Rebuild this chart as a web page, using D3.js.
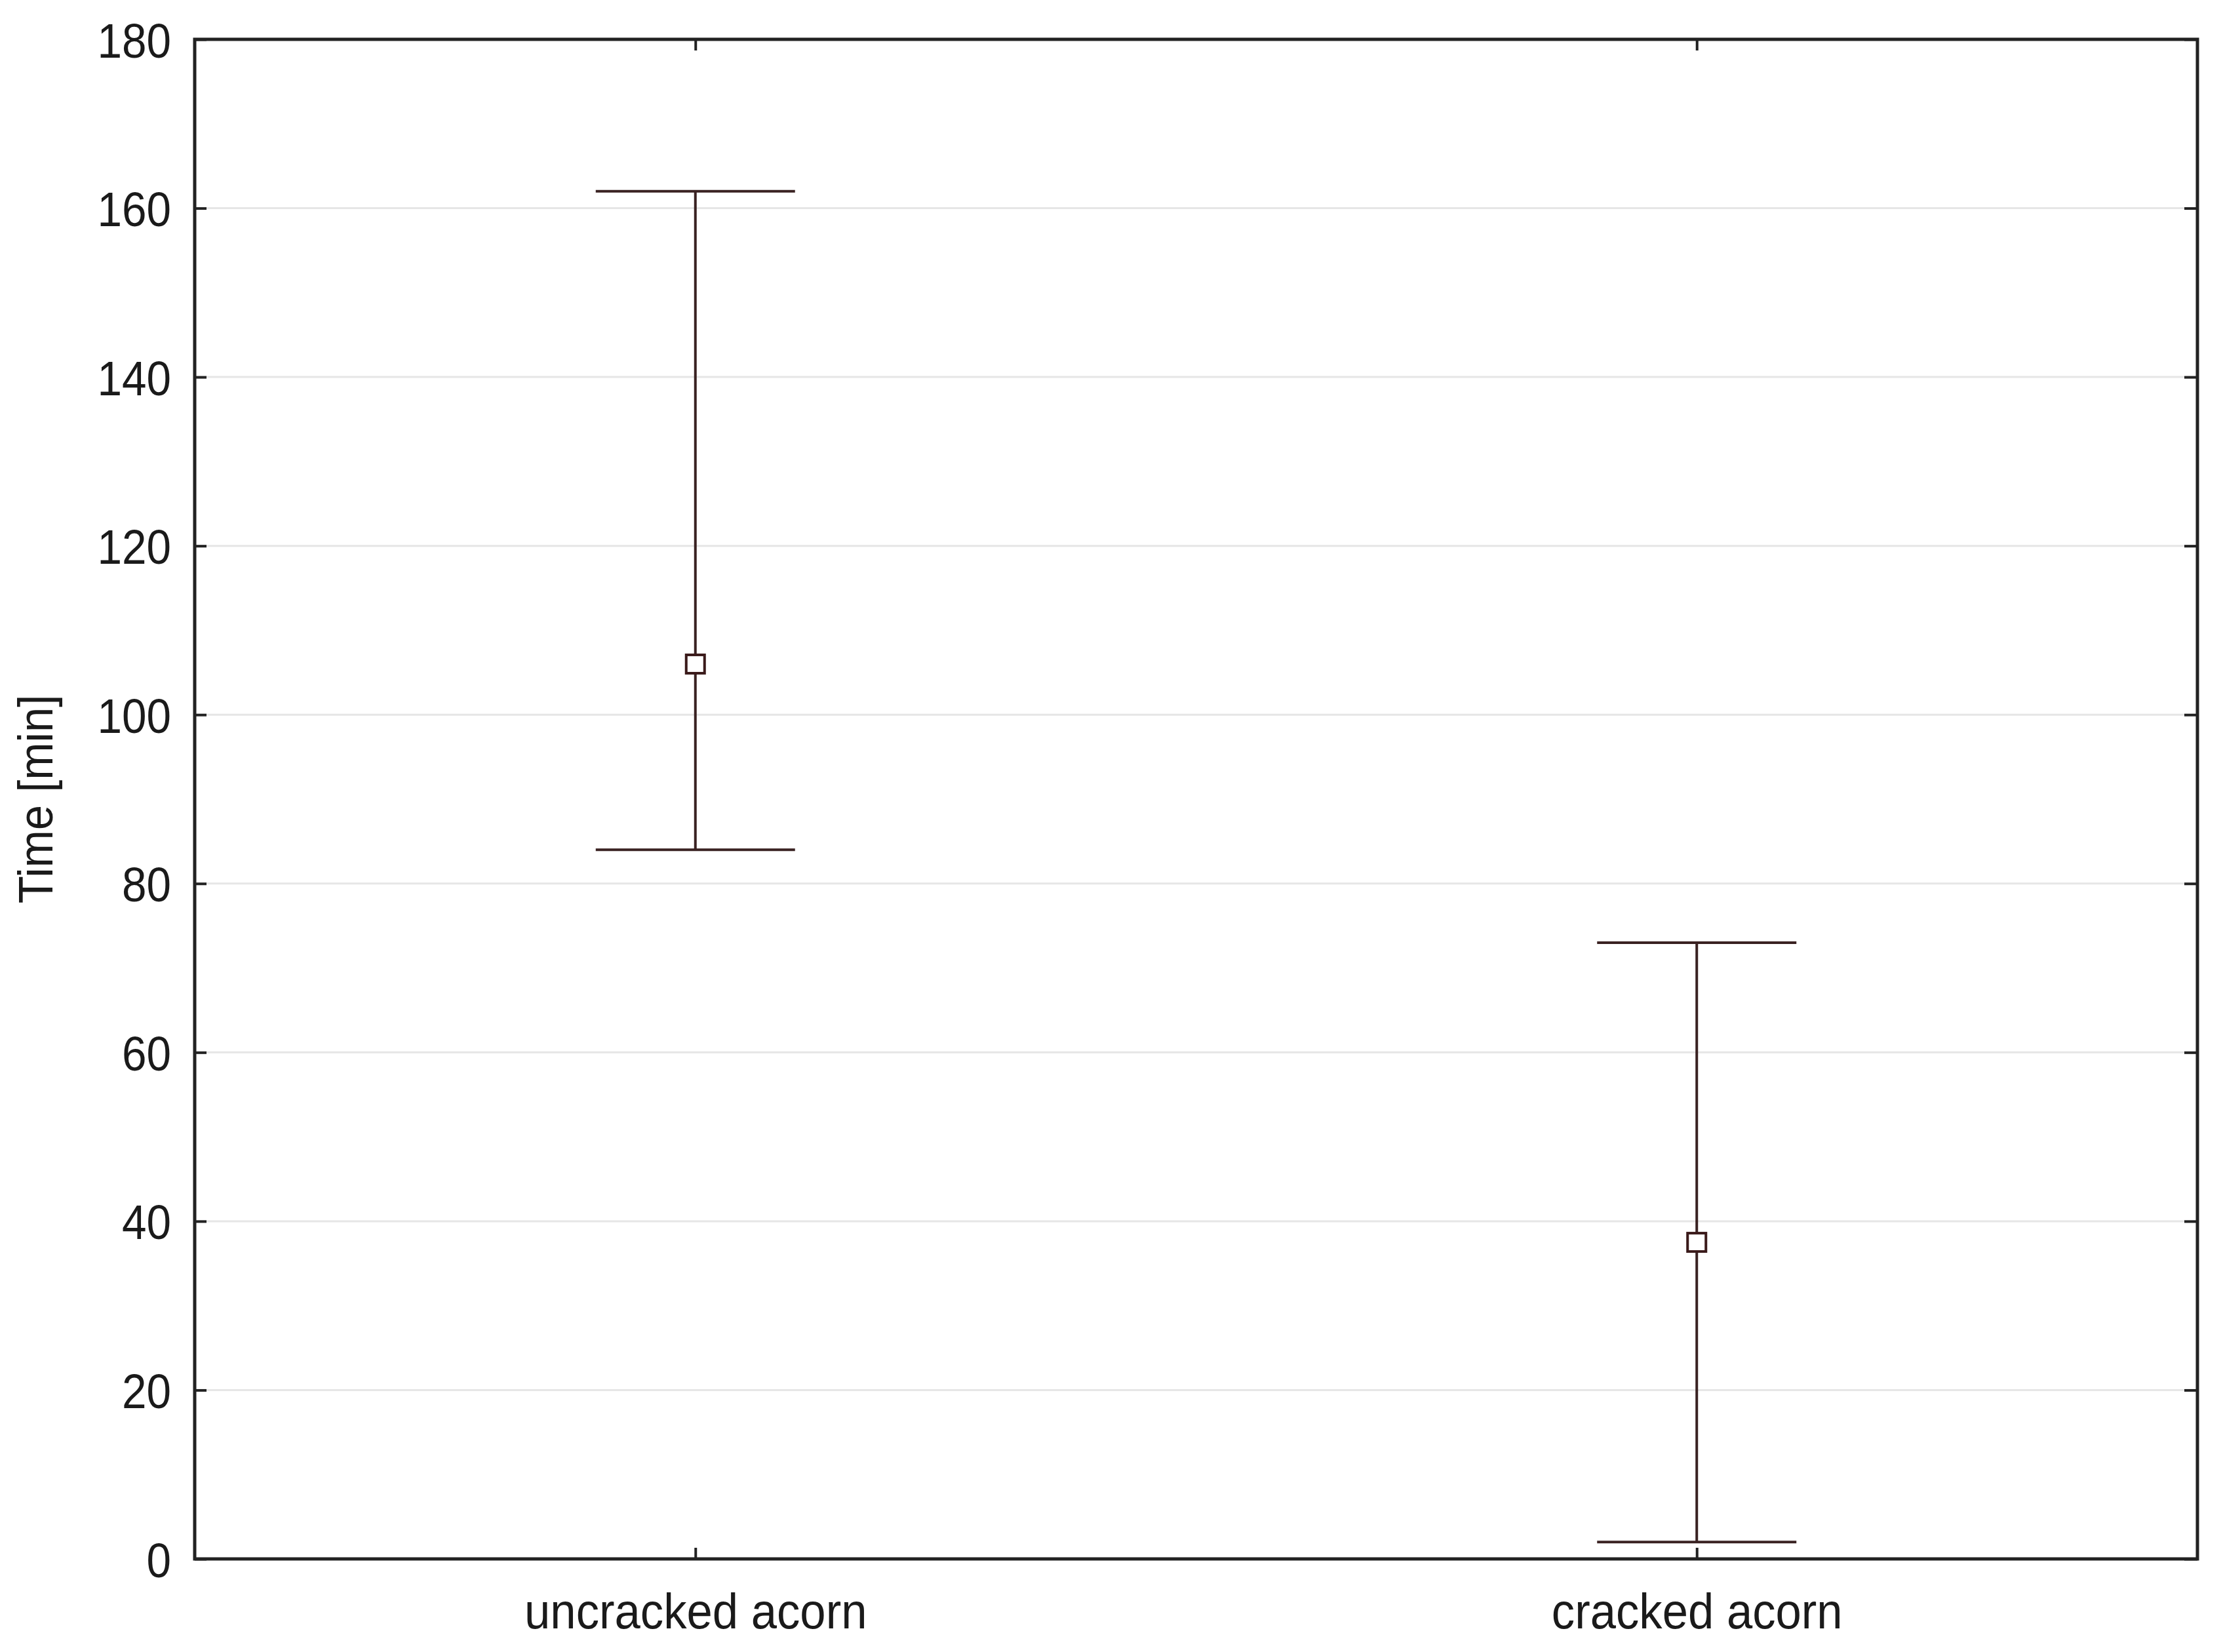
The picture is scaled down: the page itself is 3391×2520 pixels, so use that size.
<!DOCTYPE html>
<html>
<head>
<meta charset="utf-8">
<script src="https://cdn.jsdelivr.net/npm/d3@7"></script>
<style>
html,body{margin:0;padding:0;background:#fff;}
svg{display:block;}
text{font-family:"Liberation Sans",Arial,sans-serif;fill:#1a1a1a;}
</style>
</head>
<body>
<svg id="chart" width="3391" height="2520"></svg>
<script>
const categories = ["uncracked acorn", "cracked acorn"];
const means = [106, 37.5];
const upper = [162, 73];
const lower = [84, 2];
const yTicks = [0, 20, 40, 60, 80, 100, 120, 140, 160, 180];
const yTitle = "Time [min]";

const W = 3391, H = 2520;
const m = {left: 297, right: W - 3352, top: 60, bottom: H - 2378};
const svg = d3.select("#chart");
const iw = W - m.left - m.right, ih = H - m.top - m.bottom;
const g = svg.append("g").attr("transform", `translate(${m.left},${m.top})`);

const x = d3.scalePoint().domain(categories).range([0, iw]).padding(0.5);
const y = d3.scaleLinear().domain([0, 180]).range([ih, 0]);

// gridlines
g.append("g").selectAll("line").data(yTicks.filter(d => d > 0 && d < 180)).join("line")
  .attr("x1", 0).attr("x2", iw)
  .attr("y1", d => y(d)).attr("y2", d => y(d))
  .attr("stroke", "#e6e6e6").attr("stroke-width", 3);

const sx = 0.9;
// left axis
const ya = g.append("g").call(d3.axisLeft(y).tickValues(yTicks).tickSizeInner(-18).tickSizeOuter(0).tickPadding(40));
ya.select(".domain").remove();
ya.selectAll(".tick line").attr("stroke", "#222").attr("stroke-width", 4);
ya.selectAll(".tick text").attr("font-size", 75).attr("fill", "#1e1e1e")
  .attr("font-family", "Liberation Sans, Arial, sans-serif")
  .attr("transform", `scale(${sx},1)`).attr("dy", "0.36em");

// right axis ticks
const yr = g.append("g").attr("transform", `translate(${iw},0)`)
  .call(d3.axisRight(y).tickValues(yTicks).tickSizeInner(-20).tickSizeOuter(0).tickFormat(""));
yr.select(".domain").remove();
yr.selectAll(".tick line").attr("stroke", "#222").attr("stroke-width", 4);

// bottom axis
const xa = g.append("g").attr("transform", `translate(0,${ih})`)
  .call(d3.axisBottom(x).tickSizeInner(-17).tickSizeOuter(0).tickPadding(52));
xa.select(".domain").remove();
xa.selectAll(".tick line").attr("stroke", "#222").attr("stroke-width", 4);
xa.selectAll(".tick text").attr("font-size", 76).attr("fill", "#1e1e1e")
  .attr("font-family", "Liberation Sans, Arial, sans-serif")
  .attr("transform", `scale(0.93,1)`);

// top axis ticks
const xt = g.append("g").call(d3.axisTop(x).tickSizeInner(-17).tickSizeOuter(0).tickFormat(""));
xt.select(".domain").remove();
xt.selectAll(".tick line").attr("stroke", "#222").attr("stroke-width", 4);

// frame
g.append("rect").attr("x", 0).attr("y", 0).attr("width", iw).attr("height", ih)
  .attr("fill", "none").attr("stroke", "#222").attr("stroke-width", 5);

// error bars
const barColor = "#3a2222";
const capHalf = 152;
const eb = g.append("g").selectAll("g").data(categories).join("g");
eb.append("line")
  .attr("x1", d => x(d)).attr("x2", d => x(d))
  .attr("y1", (d, i) => y(upper[i])).attr("y2", (d, i) => y(lower[i]))
  .attr("stroke", barColor).attr("stroke-width", 4);
eb.append("line")
  .attr("x1", d => x(d) - capHalf).attr("x2", d => x(d) + capHalf)
  .attr("y1", (d, i) => y(upper[i])).attr("y2", (d, i) => y(upper[i]))
  .attr("stroke", barColor).attr("stroke-width", 4);
eb.append("line")
  .attr("x1", d => x(d) - capHalf).attr("x2", d => x(d) + capHalf)
  .attr("y1", (d, i) => y(lower[i])).attr("y2", (d, i) => y(lower[i]))
  .attr("stroke", barColor).attr("stroke-width", 4);
eb.append("rect")
  .attr("x", d => x(d) - 14).attr("y", (d, i) => y(means[i]) - 14)
  .attr("width", 28).attr("height", 28)
  .attr("fill", "#fff").attr("stroke", "#3a1a1a").attr("stroke-width", 4);

// y title
svg.append("text")
  .attr("transform", `translate(80,${m.top + ih / 2}) rotate(-90) scale(0.93,1)`)
  .attr("text-anchor", "middle")
  .attr("font-size", 74)
  .attr("fill", "#1e1e1e")
  .text(yTitle);
</script>
</body>
</html>
